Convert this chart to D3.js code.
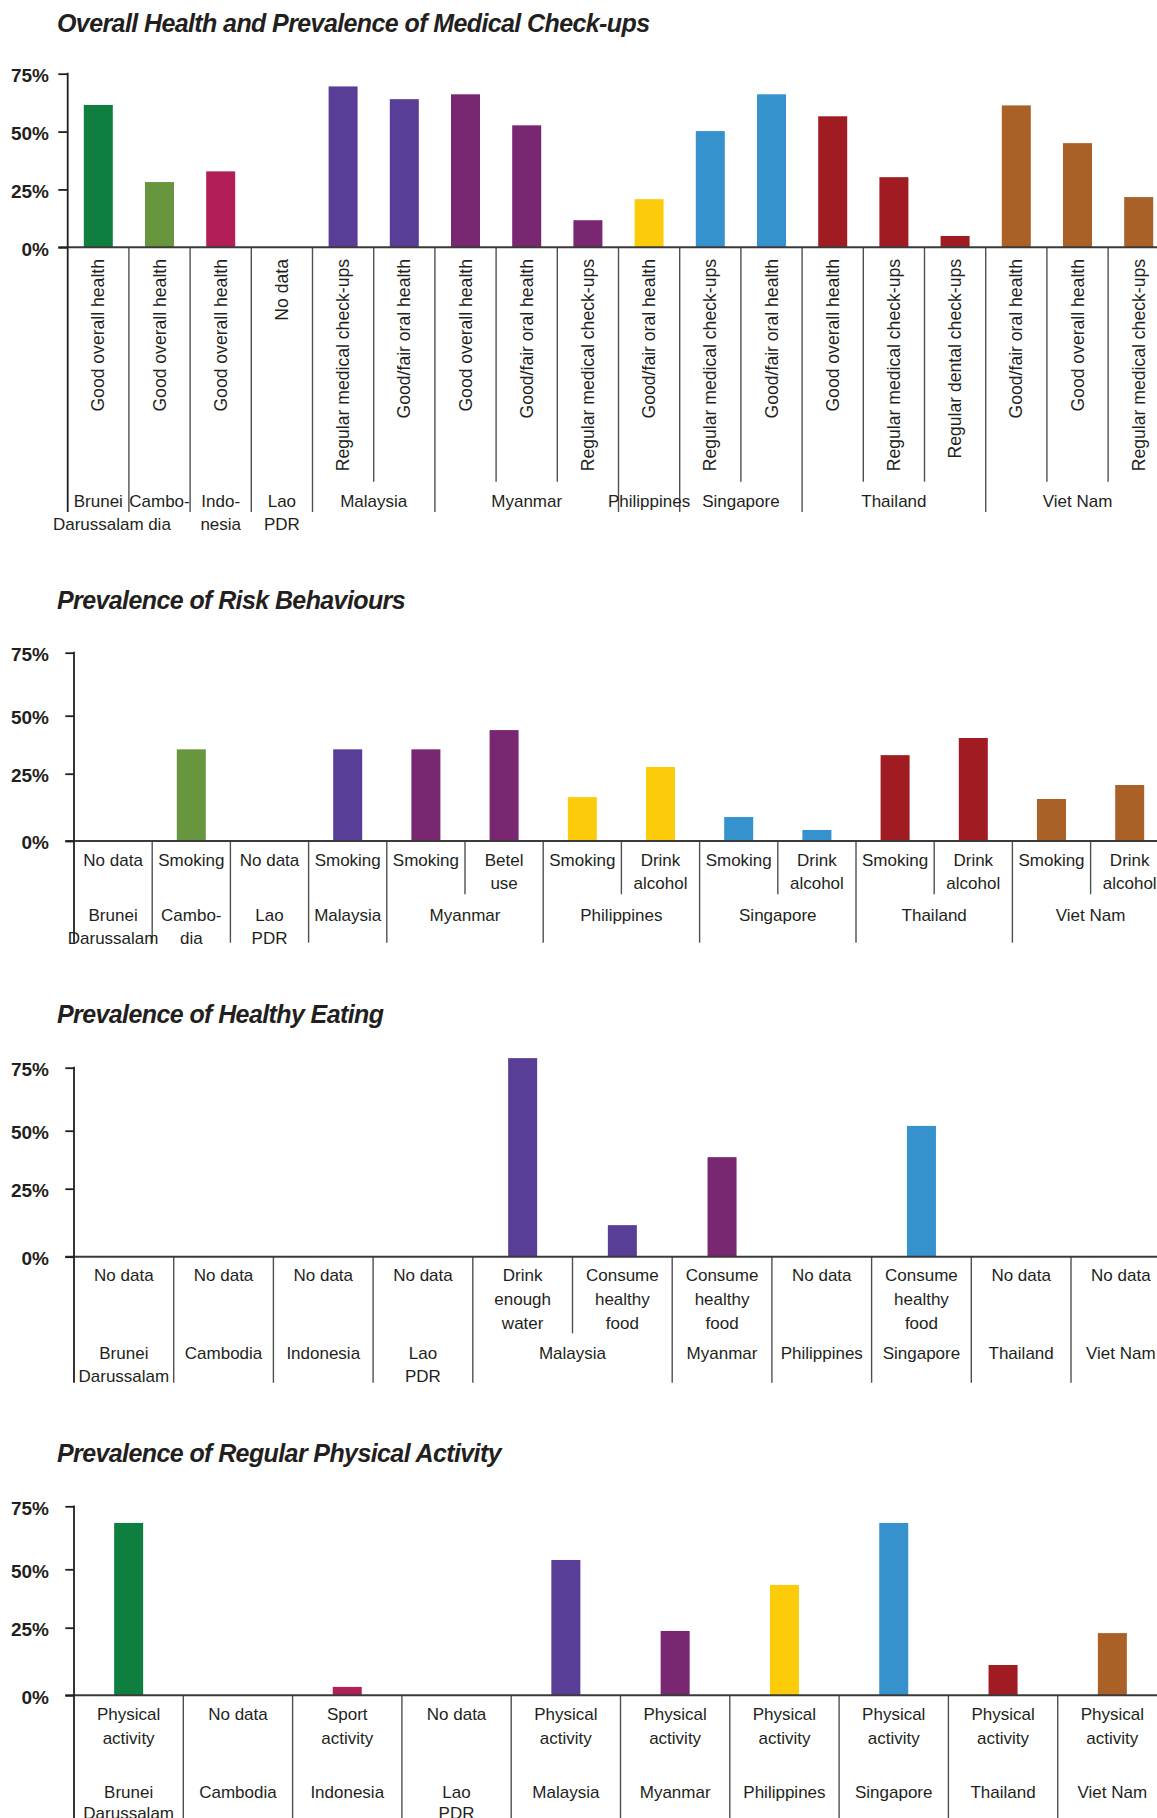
<!DOCTYPE html>
<html>
<head>
<meta charset="utf-8">
<title>Health behaviours in ASEAN</title>
<script src="https://cdn.jsdelivr.net/npm/d3@7"></script>
<style>
  body { margin: 0; background: #fff; }
  svg { display: block; font-family: "Liberation Sans", Arial, sans-serif; }
  .title { font-size: 25px; font-weight: bold; font-style: italic; fill: #231f20; letter-spacing: -0.6px; }
  .tick text { font-size: 19px; font-weight: bold; fill: #231f20; }
  .lbl { font-size: 17px; fill: #231f20; }
  .rot { font-size: 17.6px; fill: #231f20; }
</style>
</head>
<body>
<script>
// ---------- data ----------
var tickValues = [0, 25, 50, 75];

// Overall health and medical check-ups
var healthCountry = ["BRN","KHM","IDN","LAO","MYS","MYS","MMR","MMR","MMR","PHL","SGP","SGP","THA","THA","THA","VNM","VNM","VNM"];
var healthCategory = ["Good overall health","Good overall health","Good overall health","No data",
  "Regular medical check-ups","Good/fair oral health","Good overall health","Good/fair oral health",
  "Regular medical check-ups","Good/fair oral health","Regular medical check-ups","Good/fair oral health",
  "Good overall health","Regular medical check-ups","Regular dental check-ups","Good/fair oral health",
  "Good overall health","Regular medical check-ups"];
var healthValue = [61.5, 28.2, 32.8, null, 69.5, 64.0, 66.1, 52.7, 11.7, 20.8, 50.2, 66.1, 56.6, 30.3, 4.9, 61.3, 45.0, 21.7];
var healthGroups = ["Brunei\nDarussalam","Cambo-\ndia","Indo-\nnesia","Lao\nPDR","Malaysia","Myanmar","Philippines","Singapore","Thailand","Viet Nam"];

// Risk behaviours
var riskCountry = ["BRN","KHM","LAO","MYS","MMR","MMR","PHL","PHL","SGP","SGP","THA","THA","VNM","VNM"];
var riskCategory = ["No data","Smoking","No data","Smoking","Smoking","Betel\nuse","Smoking","Drink\nalcohol",
  "Smoking","Drink\nalcohol","Smoking","Drink\nalcohol","Smoking","Drink\nalcohol"];
var riskValue = [null, 35.5, null, 35.5, 35.5, 43.8, 16.3, 27.9, 8.9, 4.1, 33.0, 40.4, 15.6, 20.8];
var riskGroups = ["Brunei\nDarussalam","Cambo-\ndia","Lao\nPDR","Malaysia","Myanmar","Philippines","Singapore","Thailand","Viet Nam"];

// Healthy eating
var eatingCountry = ["BRN","KHM","IDN","LAO","MYS","MYS","MMR","PHL","SGP","THA","VNM"];
var eatingCategory = ["No data","No data","No data","No data","Drink\nenough\nwater","Consume\nhealthy\nfood",
  "Consume\nhealthy\nfood","No data","Consume\nhealthy\nfood","No data","No data"];
var eatingValue = [null, null, null, null, 78.8, 11.6, 38.6, null, 51.9, null, null];
var eatingGroups = ["Brunei\nDarussalam","Cambodia","Indonesia","Lao\nPDR","Malaysia","Myanmar","Philippines","Singapore","Thailand","Viet Nam"];

// Regular physical activity
var activityCountry = ["BRN","KHM","IDN","LAO","MYS","MMR","PHL","SGP","THA","VNM"];
var activityCategory = ["Physical\nactivity","No data","Sport\nactivity","No data","Physical\nactivity",
  "Physical\nactivity","Physical\nactivity","Physical\nactivity","Physical\nactivity","Physical\nactivity"];
var activityValue = [68.4, null, 3.1, null, 53.7, 23.8, 43.3, 68.4, 11.2, 23.0];
var activityGroups = eatingGroups;

// ---------- styles / layout ----------
var countryColor = {
  BRN: "#0e7f3e", KHM: "#67963f", IDN: "#b21f58", LAO: "#999999", MYS: "#583e96",
  MMR: "#7a2772", PHL: "#fccb0a", SGP: "#3592cd", THA: "#a11c22", VNM: "#aa6128"
};

var W = 1157, H = 1818, barW = 29, labelRight = 49;

var svg = d3.select("body").append("svg").attr("width", W).attr("height", H);
svg.append("rect").attr("width", W).attr("height", H).attr("fill", "#fff");

function multiline(sel, text, x, ys) {
  var lines = text.split("\n");
  lines.forEach(function(s, k) {
    sel.append("tspan").attr("x", x).attr("y", ys[k]).attr("dy", "0.35em").text(s);
  });
}

function drawPanel(cfg, countries, categories, values, groupLabels) {
  var n = categories.length;
  var g = svg.append("g");
  var pad = 1 - barW / cfg.slot;

  g.append("text").attr("class", "title").attr("x", 57).attr("y", cfg.titleY).text(cfg.title);

  var x = d3.scaleBand().domain(d3.range(n))
    .range([cfg.axisX, cfg.axisX + n * cfg.slot])
    .paddingInner(pad).paddingOuter(pad / 2);
  var y = d3.scaleLinear().domain(cfg.domain).range(cfg.yRange);
  var step = x.step();
  var cx = function(i) { return x(i) + x.bandwidth() / 2; };

  // separators between slots
  for (var i = 1; i < n; i++) {
    var sx = cfg.axisX + i * step;
    var isGroup = countries[i] !== countries[i - 1];
    g.append("line")
      .attr("x1", sx).attr("x2", sx)
      .attr("y1", y(0)).attr("y2", isGroup ? cfg.outerEnd : cfg.innerEnd)
      .attr("stroke", "#505050").attr("stroke-width", 1.4);
  }

  // bars
  var data = values.map(function(v, i) { return { v: v, i: i }; })
    .filter(function(d) { return d.v != null; });
  g.selectAll("rect.bar").data(data).enter().append("rect")
    .attr("class", "bar")
    .attr("x", function(d) { return x(d.i); })
    .attr("width", x.bandwidth())
    .attr("y", function(d) { return y(d.v); })
    .attr("height", function(d) { return y(0) - y(d.v); })
    .attr("fill", function(d) { return countryColor[countries[d.i]]; });

  // baseline
  g.append("line")
    .attr("x1", cfg.tickX0).attr("x2", W)
    .attr("y1", y(0)).attr("y2", y(0))
    .attr("stroke", "#3a3a3a").attr("stroke-width", 2);

  // y axis
  var axis = d3.axisLeft(y).tickValues(tickValues)
    .tickFormat(function(d) { return d + "%"; })
    .tickSize(cfg.axisX - cfg.tickX0)
    .tickPadding(cfg.tickX0 - labelRight);
  var ag = g.append("g").attr("transform", "translate(" + cfg.axisX + ",0)").call(axis);
  ag.select(".domain").remove();
  ag.selectAll(".tick line").attr("stroke", "#231f20").attr("stroke-width", 1.8);
  ag.selectAll(".tick text").attr("dy", "0.42em").attr("font-family", null).attr("font-size", null);
  g.append("line")
    .attr("x1", cfg.axisX).attr("x2", cfg.axisX)
    .attr("y1", y(75) - 0.9).attr("y2", cfg.outerEnd)
    .attr("stroke", "#231f20").attr("stroke-width", 1.8);

  // category labels
  categories.forEach(function(c, i) {
    if (cfg.rotated) {
      g.append("text").attr("class", "rot")
        .attr("transform", "translate(" + cx(i) + "," + cfg.catY[0] + ") rotate(-90)")
        .attr("text-anchor", "end").attr("dy", "0.35em")
        .text(c);
    } else {
      var t = g.append("text").attr("class", "lbl").attr("text-anchor", "middle");
      multiline(t, c, cx(i), cfg.catY);
    }
  });

  // country labels, centred on each run of bars
  var runs = [];
  countries.forEach(function(c, i) {
    if (i === 0 || c !== countries[i - 1]) runs.push({ start: i, end: i });
    else runs[runs.length - 1].end = i;
  });
  runs.forEach(function(r, k) {
    var mid = cfg.axisX + (r.start + r.end + 1) / 2 * step;
    var t = g.append("text").attr("class", "lbl").attr("text-anchor", "middle");
    multiline(t, groupLabels[k], mid, cfg.countryY);
  });
}

drawPanel({
  title: "Overall Health and Prevalence of Medical Check-ups",
  titleY: 32, axisX: 67.7, tickX0: 58.3, slot: 61.2,
  domain: [0, 75], yRange: [247.3, 73.7],
  rotated: true, catY: [259],
  innerEnd: 481.7, outerEnd: 512, countryY: [500.7, 524]
}, healthCountry, healthCategory, healthValue, healthGroups);

drawPanel({
  title: "Prevalence of Risk Behaviours",
  titleY: 609, axisX: 74, tickX0: 65.3, slot: 78.2,
  domain: tickValues, yRange: [841, 773.7, 715.7, 652.7],
  rotated: false, catY: [860, 883.3],
  innerEnd: 894.3, outerEnd: 942.7, countryY: [915, 938.3]
}, riskCountry, riskCategory, riskValue, riskGroups);

drawPanel({
  title: "Prevalence of Healthy Eating",
  titleY: 1023, axisX: 74, tickX0: 65.3, slot: 99.7,
  domain: tickValues, yRange: [1256.7, 1188.7, 1130.7, 1067.7],
  rotated: false, catY: [1275, 1298.8, 1322.6],
  innerEnd: 1333.3, outerEnd: 1382.7, countryY: [1352.7, 1376]
}, eatingCountry, eatingCategory, eatingValue, eatingGroups);

drawPanel({
  title: "Prevalence of Regular Physical Activity",
  titleY: 1462, axisX: 74, tickX0: 65.3, slot: 109.3,
  domain: tickValues, yRange: [1695.3, 1627.7, 1569.3, 1506.3],
  rotated: false, catY: [1714, 1737.7],
  innerEnd: 1760, outerEnd: 1830, countryY: [1791.7, 1813.3]
}, activityCountry, activityCategory, activityValue, activityGroups);
</script>
</body>
</html>
